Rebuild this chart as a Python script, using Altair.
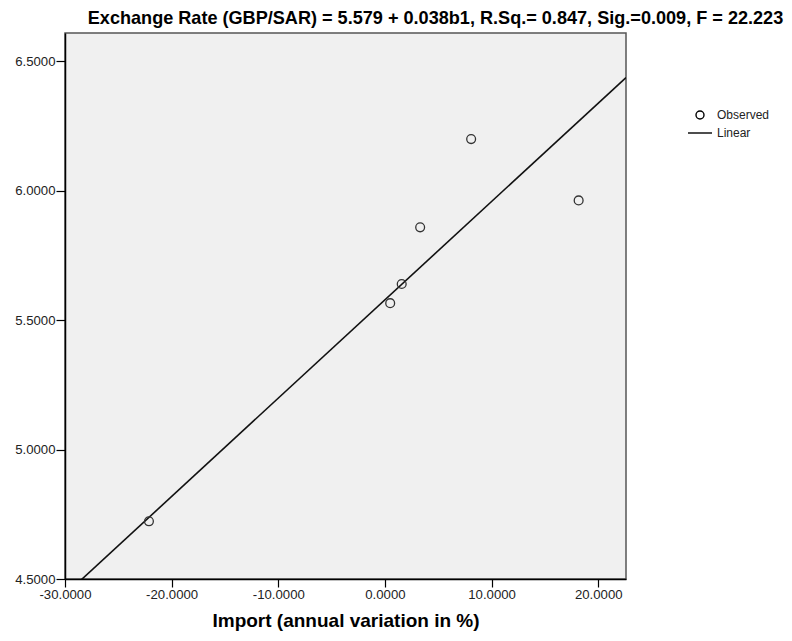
import altair as alt
import pandas as pd

# Observed points
import_var = [-22.13, 0.49, 1.57, 3.30, 8.08, 18.16]
exch_rate = [4.723, 5.566, 5.640, 5.859, 6.200, 5.963]

# Fitted linear model shown in the title
intercept = 5.579
slope = 0.038

x_domain = [-30.0, 22.6]
y_domain = [4.5, 6.61]
x_ticks = [-30, -20, -10, 0, 10, 20]
y_ticks = [4.5, 5.0, 5.5, 6.0, 6.5]

title_text = "Exchange Rate (GBP/SAR) = 5.579 + 0.038b1, R.Sq.= 0.847, Sig.=0.009, F = 22.223"
x_title = "Import (annual variation in %)"
legend_labels = ["Observed", "Linear"]

pts = pd.DataFrame({"x": import_var, "y": exch_rate, "series": legend_labels[0]})
line_x = [x_domain[0], x_domain[1]]
fit = pd.DataFrame({"x": line_x, "y": [intercept + slope * v for v in line_x]})

bold = "Liberation Sans, Arial, sans-serif"
regular = "Liberation Sans, Arial, sans-serif"

xs = alt.Scale(domain=x_domain, nice=False, zero=False)
ys = alt.Scale(domain=y_domain, nice=False, zero=False)

label_expr = "replace(format(datum.value, '.4f'), '\u2212', '-')"

x_axis = alt.Axis(values=x_ticks, labelExpr=label_expr, title=x_title, grid=False,
                  labelFlush=False, labelOverlap=False,
                  titleFont=bold, titleFontSize=19, titleFontWeight="bold",
                  titleColor="#000", titlePadding=11,
                  labelFont=regular, labelFontSize=13.2, labelColor="#222",
                  labelPadding=1, tickSize=8, tickColor="#000", domainColor="#000",
                  domainWidth=1.5, tickWidth=1.2)
y_axis = alt.Axis(values=y_ticks, labelExpr=label_expr, title=None, grid=False,
                  labelFlush=False, labelOverlap=False,
                  labelFont=regular, labelFontSize=13.2, labelColor="#222",
                  labelPadding=1, tickSize=9, tickColor="#000", domainColor="#000",
                  domainWidth=1.5, tickWidth=1.2)

points = alt.Chart(pts).mark_point(
    shape="circle", filled=False, size=78, strokeWidth=1.3, color="#333", opacity=1
).encode(
    x=alt.X("x:Q", scale=xs, axis=x_axis),
    y=alt.Y("y:Q", scale=ys, axis=y_axis),
    shape=alt.Shape("series:N",
                    scale=alt.Scale(domain=legend_labels,
                                    range=["circle", "M -3 0 L 3 0"]),
                    legend=alt.Legend(title=None, orient="none", legendX=629, legendY=76,
                                      symbolSize=64, symbolStrokeColor="#000",
                                      symbolFillColor="transparent", symbolStrokeWidth=1.4,
                                      labelFont=regular, labelFontSize=12, labelColor="#222",
                                      rowPadding=5, labelOffset=11)),
)

line = alt.Chart(fit).mark_line(color="#111", strokeWidth=1.6, clip=True).encode(
    x=alt.X("x:Q", scale=xs),
    y=alt.Y("y:Q", scale=ys),
)

chart = alt.layer(line, points).properties(
    width=561, height=546,
    title=alt.Title(title_text, font=bold, fontSize=18.1, fontWeight="bold",
                    color="#000", anchor="middle", dx=90, offset=5),
    autosize=alt.AutoSizeParams(type="none"),
    padding={"left": 57, "top": 25, "right": 158, "bottom": 58},
).configure_view(
    fill="#F0F0F0", stroke="#555", strokeWidth=1.5
)

chart.save("out.html", embed_options={"renderer": "svg", "actions": False})
